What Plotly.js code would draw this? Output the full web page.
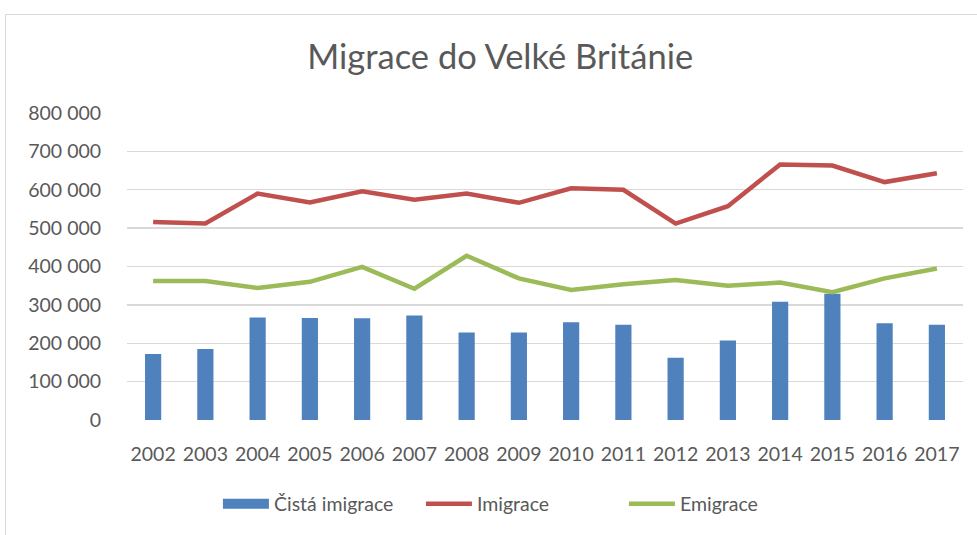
<!DOCTYPE html>
<html>
<head>
<meta charset="utf-8">
<script src="https://cdn.plot.ly/plotly-3.0.1.min.js"></script>
<style>
html,body{margin:0;padding:0;background:#fff;}
#frame{position:absolute;left:5px;top:14px;width:990px;height:540px;border:1.5px solid #d9d9d9;box-sizing:border-box;}
#chart{position:absolute;left:0;top:0;width:977px;height:535px;}
</style>
</head>
<body>
<div id="frame"></div>
<div id="chart"></div>
<script>
const years = ['2002','2003','2004','2005','2006','2007','2008','2009','2010','2011','2012','2013','2014','2015','2016','2017'];
const cistaImigrace = [172000,185000,267000,266000,265000,272000,228000,228000,255000,248000,162000,207000,308000,329000,252000,248000];
const imigrace = [516000,512000,590000,567000,596000,574000,590000,566000,604000,600000,512000,557000,666000,663000,620000,643000];
const emigrace = [362000,362000,344000,360000,399000,342000,428000,369000,339000,354000,365000,350000,358000,333000,369000,395000];

const font = 'Lato, "Open Sans", sans-serif';
const data = [
  {type:'bar', name:'Čistá imigrace', x:years, y:cistaImigrace, marker:{color:'#4f81bd'}, showlegend:false, legendgroup:'c'},
  {type:'scatter', mode:'lines', name:'Čistá imigrace', x:[null], y:[null], line:{color:'#4f81bd', width:14}, legendgroup:'c', hoverinfo:'skip'},
  {type:'scatter', mode:'lines', name:'Imigrace', x:years, y:imigrace, line:{color:'#c0504d', width:4.5}},
  {type:'scatter', mode:'lines', name:'Emigrace', x:years, y:emigrace, line:{color:'#9bbb59', width:4.5}}
];
const layout = {
  width:977, height:535,
  paper_bgcolor:'rgba(0,0,0,0)', plot_bgcolor:'rgba(0,0,0,0)',
  margin:{l:127, r:14, t:112.5, b:114.3},
  separators:', ',
  bargap:0.69,
  font:{family:font, color:'#595959', size:19.5},
  title:{text:'Migrace do Velké Británie', x:0.512, xanchor:'center', y:0.893, yanchor:'middle', font:{family:font, size:34.5, color:'#595959'}},
  xaxis:{type:'category', showgrid:false, zeroline:false, showline:false, ticks:'outside', ticklen:17, tickcolor:'rgba(0,0,0,0)', tickfont:{size:19.5, color:'#595959'}},
  yaxis:{range:[0,800000], dtick:100000, tickformat:',d', gridcolor:'#d9d9d9', gridwidth:1.3, zeroline:false, showline:false, ticks:'outside', ticklen:21, tickcolor:'rgba(0,0,0,0)', tickfont:{size:19.5, color:'#595959'}},
  showlegend:true,
  legend:{orientation:'h', x:0.473, xanchor:'center', y:-0.27, yanchor:'middle', font:{size:19.5, color:'#595959'}, itemwidth:46, entrywidth:142, entrywidthmode:'pixels', bgcolor:'rgba(0,0,0,0)', traceorder:'normal'}
};
Plotly.newPlot('chart', data, layout, {displayModeBar:false, staticPlot:true});
</script>
</body>
</html>
